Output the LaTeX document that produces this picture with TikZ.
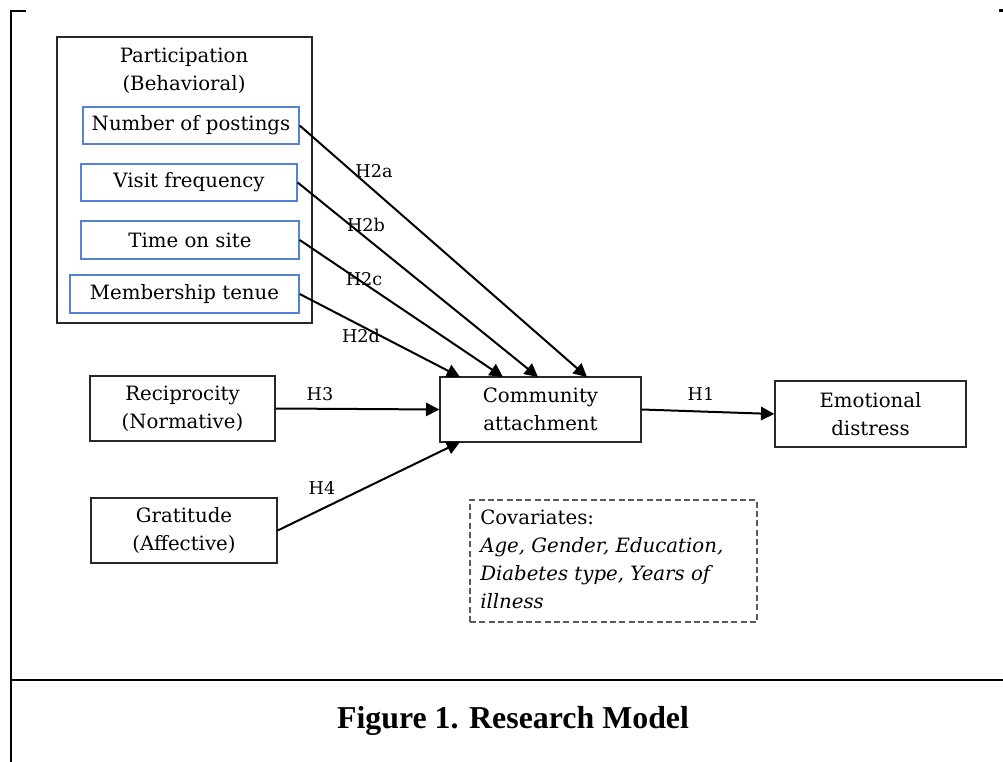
\documentclass[tikz,border=0pt]{standalone}
\usepackage{fontspec}
\setmainfont{DejaVu Serif}
\newfontfamily\capfont{Liberation Serif}
\usetikzlibrary{arrows.meta}
\definecolor{boxblue}{RGB}{85,130,210}
\definecolor{dashgray}{RGB}{90,90,90}
\definecolor{boxline}{RGB}{40,40,40}
\newdimen\pxu
\pxu=0.75pt
\begin{document}
\begin{tikzpicture}[x=0.75pt,y=-0.75pt,
  txt/.style={font=\fontsize{14.8}{20.8}\selectfont, align=center, inner sep=0pt},
  box/.style={txt, draw=boxline, line width=1pt},
  bluebox/.style={txt, draw=boxblue, line width=1pt},
  hyp/.style={font=\fontsize{13.2}{15}\selectfont, inner sep=0pt},
  conn/.style={line width=1.5pt, -{Triangle[length=10pt,width=10pt]}},
  frameline/.style={line width=2pt}
]
\useasboundingbox (0,0) rectangle (1003,762);

% frame
\draw[frameline] (26,11) -- (11,11) -- (11,762);
\draw[frameline] (11,680) -- (1003,680);
\draw[frameline] (999,10.5) -- (1003,10.5);

% participation group
\node[box, minimum width=255\pxu, minimum height=286\pxu] (part) at (184.5,180) {};
\node[txt] (parttitle) at (184,71) {Participation\\(Behavioral)};
\node[bluebox, minimum width=216\pxu, minimum height=37\pxu] (np) at (191,125.5) {Number of postings};
\node[bluebox, minimum width=216\pxu, minimum height=37\pxu] (vf) at (189,182.5) {Visit frequency};
\node[bluebox, minimum width=218\pxu, minimum height=38\pxu] (ts) at (190,240) {Time on site};
\node[bluebox, minimum width=229\pxu, minimum height=38\pxu] (mt) at (184.5,294) {Membership tenue};

% other constructs
\node[box, minimum width=201\pxu, minimum height=65\pxu] (ca) at (540.5,409.5) {Community\\attachment};
\node[box, minimum width=191\pxu, minimum height=66\pxu] (ed) at (870.5,414) {Emotional\\distress};
\node[box, minimum width=185\pxu, minimum height=65\pxu] (rec) at (182.5,408.5) {Reciprocity\\(Normative)};
\node[box, minimum width=186\pxu, minimum height=65\pxu] (gra) at (184,530.5) {Gratitude\\(Affective)};

% covariates
\node[draw=dashgray, line width=1pt, dash pattern=on 4.5pt off 2.5pt,
      minimum width=287\pxu, minimum height=122\pxu] (cov) at (613.5,561) {};
\node[txt, align=left, anchor=north west] (covtxt) at (480,510)
  {Covariates:\\\itshape Age, Gender, Education,\\\itshape Diabetes type, Years of\\\itshape illness};

% end points on community attachment
\coordinate (e2a) at (587,377);
\coordinate (e2b) at (538,377);
\coordinate (e2c) at (503,377);
\coordinate (e2d) at (460,377);
\coordinate (e4) at (460,442);

% connectors
\draw[conn] (np.east) -- (e2a);
\draw[conn] (vf.east) -- (e2b);
\draw[conn] (ts.east) -- (e2c);
\draw[conn] (mt.east) -- (e2d);
\draw[conn] (rec.east) -- (ca.west);
\draw[conn] (gra.east) -- (e4);
\draw[conn] (ca.east) -- (ed.west);

% labels
\node[hyp] (l2a) at (374,171) {H2a};
\node[hyp] (l2b) at (366,225) {H2b};
\node[hyp] (l2c) at (364,279) {H2c};
\node[hyp] (l2d) at (361,336) {H2d};
\node[hyp] (l3) at (320,394) {H3};
\node[hyp] (l4) at (322,488) {H4};
\node[hyp] (l1) at (701,394) {H1};

% caption
\node[font=\capfont\bfseries\fontsize{23.9}{28}\selectfont, inner sep=0pt] (cap) at (513,721) {Figure 1. Research Model};
\end{tikzpicture}
\end{document}
